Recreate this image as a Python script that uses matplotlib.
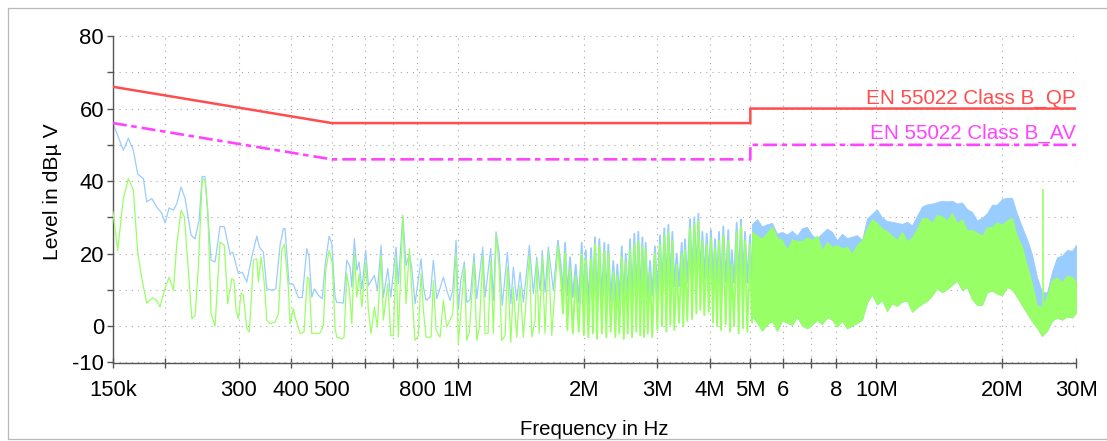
import matplotlib
matplotlib.use("Agg")
import matplotlib.pyplot as plt
from matplotlib.ticker import FixedLocator, FixedFormatter, NullLocator
from matplotlib.lines import Line2D
from matplotlib.patches import Rectangle
import numpy as np

plt.rcParams['font.family'] = ['Liberation Sans', 'DejaVu Sans']
plt.rcParams['lines.scale_dashes'] = False

# ---------------- limit lines (frequency in MHz, level in dBuV) ----------------
qp_freq = [0.15, 0.5, 5.0, 5.0, 30.0]
qp_level = [66.0, 56.0, 56.0, 60.0, 60.0]
av_freq = [0.15, 0.5, 5.0, 5.0, 30.0]
av_level = [56.0, 46.0, 46.0, 50.0, 50.0]
qp_name = "EN 55022 Class B_QP"
av_name = "EN 55022 Class B_AV"

# ---------------- peak trace (blue), 150 kHz .. 1.73 MHz ----------------
blue_freq_a = [0.150, 0.1544, 0.1588, 0.1632, 0.1678, 0.1719, 0.1773, 0.1806, 0.1857, 0.1908,
               0.1962, 0.1998, 0.2042, 0.2092, 0.2131, 0.2182, 0.2230, 0.2305, 0.2356, 0.2408,
               0.2451, 0.2489, 0.2573, 0.2630, 0.2703, 0.2768, 0.2856, 0.2899, 0.2990, 0.3055,
               0.3131, 0.3219, 0.3309, 0.3357, 0.3431, 0.3496, 0.3594, 0.3673, 0.3761, 0.3829,
               0.3865, 0.3951, 0.4047, 0.4160, 0.4250, 0.4356, 0.4411, 0.4478, 0.4542, 0.4643,
               0.4745, 0.4818, 0.4925, 0.5000, 0.5090]
blue_level_a = [55.9, 52.2, 48.5, 51.8, 48.5, 41.9, 40.7, 34.3, 35.2, 32.9,
                31.1, 28.5, 32.6, 32.0, 33.8, 38.4, 35.2, 25.1, 24.1, 29.2,
                41.3, 41.2, 18.2, 17.7, 27.5, 27.4, 20.0, 20.4, 14.5, 14.9,
                12.2, 19.1, 24.8, 21.8, 20.4, 10.3, 9.9, 10.3, 22.3, 26.9,
                26.9, 11.7, 11.5, 7.9, 7.9, 21.4, 19.1, 8.0, 10.3, 8.5,
                7.6, 16.8, 24.8, 22.8, 8.0]
blue_freq_b = [0.5138, 0.5328, 0.5429, 0.5528, 0.5581, 0.5660, 0.5736, 0.5809, 0.5897, 0.6026,
               0.6114, 0.6319, 0.6424, 0.6556, 0.6639, 0.6802, 0.6916, 0.7120, 0.7210, 0.7387,
               0.7523, 0.7661, 0.7764, 0.7905, 0.8170, 0.8274, 0.8398, 0.8585, 0.8742, 0.8907,
               0.9236, 0.9410, 0.9582, 0.9726, 0.9905, 1.0030, 1.0165, 1.0367, 1.0505, 1.0698,
               1.0935, 1.1099, 1.1472, 1.1618, 1.1989, 1.2161, 1.2343, 1.2548, 1.2772, 1.3137,
               1.3387, 1.3573, 1.3829, 1.4083, 1.4344, 1.4827, 1.5156, 1.5442, 1.5725, 1.5918,
               1.6157, 1.6453, 1.6919, 1.7333]
blue_level_b = [6.6, 6.4, 18.2, 16.3, 10.8, 24.1, 15.4, 17.7, 10.3, 20.9,
                11.2, 14.0, 9.9, 22.3, 8.0, 15.9, 8.0, 21.8, 11.7, 30.6,
                16.8, 20.0, 15.9, 6.2, 18.6, 10.8, 7.1, 8.0, 18.2, 7.6,
                13.5, 9.9, 7.1, 9.9, 23.7, 4.8, 12.6, 17.7, 6.6, 7.3,
                20.0, 7.6, 21.8, 8.0, 21.4, 7.1, 26.0, 20.4, 5.7, 20.4,
                6.2, 16.3, 7.1, 14.9, 6.6, 22.3, 9.0, 19.1, 9.9, 20.9,
                9.4, 21.8, 9.9, 23.5]

# ---------------- average trace (green), 150 kHz .. 1.73 MHz ----------------
green_freq_a = [0.150, 0.1539, 0.1588, 0.1632, 0.1678, 0.1719, 0.1767, 0.1806, 0.1867, 0.1908,
                0.1943, 0.1990, 0.2042, 0.2092, 0.2131, 0.2182, 0.2222, 0.2271, 0.2315, 0.2356,
                0.2399, 0.2451, 0.2489, 0.2527, 0.2573, 0.2630, 0.2703, 0.2768, 0.2820, 0.2883,
                0.2920, 0.2952, 0.2990, 0.3035, 0.3073, 0.3131, 0.3177, 0.3248, 0.3309, 0.3338,
                0.3388, 0.3450, 0.3496, 0.3560, 0.3659, 0.3726, 0.3797, 0.3851, 0.3936, 0.3973,
                0.4047, 0.4085, 0.4199, 0.4291, 0.4370, 0.4411, 0.4478, 0.4687, 0.4773, 0.4836,
                0.4925, 0.5017, 0.5090]
green_level_a = [31.5, 20.9, 35.2, 40.7, 37.5, 20.0, 11.7, 6.4, 7.8, 7.1,
                 5.3, 9.9, 13.5, 9.9, 22.8, 32.0, 30.1, 15.4, 2.1, 3.0,
                 16.3, 40.7, 40.2, 32.0, 3.4, 0.0, 23.2, 22.3, 6.2, 13.1,
                 12.6, 4.4, 2.1, 9.1, 8.5, -0.6, -1.6, 18.2, 18.6, 12.2,
                 19.1, 11.7, 1.7, 0.7, 1.2, 3.4, 20.9, 22.6, 10.8, 0.7,
                 4.8, 2.5, -2.0, -1.6, 13.5, 13.1, -2.0, -1.9, 0.2, 15.4,
                 20.9, 17.2, -0.7]
green_freq_b = [0.5138, 0.5282, 0.5348, 0.5429, 0.5507, 0.5581, 0.5660, 0.5736, 0.5809, 0.5897,
                0.6026, 0.6114, 0.6205, 0.6319, 0.6424, 0.6556, 0.6639, 0.6802, 0.6916, 0.7015,
                0.7120, 0.7210, 0.7387, 0.7523, 0.7661, 0.7764, 0.7905, 0.8049, 0.8170, 0.8274,
                0.8398, 0.8632, 0.8742, 0.8873, 0.9070, 0.9236, 0.9410, 0.9582, 0.9726, 0.9905,
                1.0030, 1.0222, 1.0367, 1.0505, 1.0657, 1.0935, 1.1099, 1.1260, 1.1472, 1.1618,
                1.1811, 1.1989, 1.2161, 1.2343, 1.2548, 1.2738, 1.2972, 1.3137, 1.3387, 1.3573,
                1.3829, 1.4083, 1.4344, 1.4827, 1.5026, 1.5298, 1.5442, 1.5638, 1.5918, 1.6157,
                1.6453, 1.6768, 1.7333]
green_level_b = [-3.0, -3.5, -3.0, 14.5, 9.9, 0.7, 20.0, 8.0, 14.5, 5.3,
                 17.7, 4.4, -2.0, 5.3, -0.2, 19.5, 1.7, 11.7, -2.6, -2.6,
                 19.1, -3.0, 30.3, 6.2, 21.4, 9.4, -3.9, -2.6, 14.5, 4.4,
                 -3.0, -3.0, 12.6, -1.1, -3.0, 7.1, -0.2, 1.7, 3.4, 20.0,
                 -4.8, 7.1, 16.3, -3.9, -1.6, 17.7, -3.9, -0.2, 19.5, -2.0,
                 -2.0, 18.2, -2.0, 25.1, 16.3, -3.9, -2.6, 16.3, -4.4, 10.8,
                 -3.0, 11.2, -3.0, 19.5, -3.0, 1.7, 18.2, -2.0, 19.1, -2.0,
                 20.4, -2.6, 21.8]

# ---------------- both traces, 1.76 MHz .. 5.1 MHz (peaks and valleys) ----------------
hf_freq = [1.765, 1.784, 1.804, 1.827, 1.854, 1.882, 1.913, 1.945, 1.978, 2.000,
           2.022, 2.051, 2.082, 2.104, 2.127, 2.151, 2.178, 2.208, 2.239, 2.264,
           2.289, 2.319, 2.353, 2.379, 2.405, 2.432, 2.465, 2.492, 2.519, 2.547,
           2.580, 2.608, 2.641, 2.670, 2.700, 2.729, 2.760, 2.785, 2.811, 2.843,
           2.879, 2.914, 2.959, 2.997, 3.042, 3.076, 3.115, 3.150, 3.185, 3.220,
           3.256, 3.291, 3.334, 3.377, 3.428, 3.458, 3.490, 3.534, 3.588, 3.627,
           3.674, 3.715, 3.756, 3.798, 3.841, 3.882, 3.933, 3.977, 4.027, 4.072,
           4.117, 4.163, 4.209, 4.255, 4.309, 4.366, 4.429, 4.471, 4.514, 4.570,
           4.639, 4.690, 4.750, 4.802, 4.855, 4.917, 4.991, 5.046, 5.111]
hf_green = [12.5, 3.5, 20.0, -1.0, 16.0, -2.0, 14.0, -1.5, 19.8, -2.5,
            18.5, -3.0, 18.5, -2.0, 22.5, -3.5, 22.0, -2.0, 20.7, -3.0,
            20.0, -1.5, 15.0, -3.0, 14.0, -2.0, 19.0, -3.5, 17.5, -2.0,
            21.0, -3.0, 22.5, -1.5, 23.5, -2.5, 22.0, -3.0, 21.0, -2.0,
            15.0, -3.0, 20.0, -1.0, 22.5, 0.0, 25.0, -1.5, 26.0, 0.5,
            23.5, -1.0, 17.0, 1.0, 20.0, 0.0, 21.0, 1.5, 27.0, 2.0,
            28.0, 3.5, 29.0, 4.5, 23.5, 3.0, 22.5, 4.0, 24.0, 1.0,
            21.5, 0.0, 23.5, -1.0, 25.0, 0.5, 23.5, -1.5, 17.0, 0.0,
            26.0, -2.0, 27.5, -0.5, 23.5, -1.5, 22.5, 1.0, 20.0]
hf_blue = [16.0, 9.0, 23.0, 8.5, 19.0, 8.0, 17.0, 6.5, 23.0, 6.5,
           21.0, 6.0, 21.5, 6.5, 24.5, 6.0, 24.0, 7.0, 23.0, 6.5,
           22.5, 7.0, 18.0, 6.5, 17.0, 7.0, 22.0, 6.5, 20.0, 7.0,
           24.0, 7.0, 25.5, 7.5, 26.0, 7.0, 24.5, 7.5, 23.0, 8.0,
           18.0, 8.5, 22.0, 9.0, 25.0, 10.0, 27.0, 10.0, 28.0, 11.0,
           26.0, 11.0, 20.0, 11.0, 23.0, 11.0, 24.0, 12.0, 29.5, 13.0,
           30.0, 13.0, 31.0, 13.5, 26.0, 13.0, 25.5, 13.0, 26.5, 12.0,
           24.0, 12.0, 26.0, 11.0, 27.5, 12.0, 26.5, 11.0, 21.0, 12.0,
           28.5, 12.0, 29.5, 12.0, 26.0, 12.0, 25.0, 13.0, 24.0]

# ---------------- dense region 5 MHz .. 30 MHz (envelopes) ----------------
env_freq = [5.046, 5.187, 5.332, 5.481, 5.633, 5.790, 5.951, 6.117, 6.288, 6.464,
            6.643, 6.829, 7.019, 7.215, 7.416, 7.623, 7.836, 8.055, 8.278, 8.510,
            8.747, 8.991, 9.242, 9.500, 9.764, 10.037, 10.313, 10.601, 10.900, 11.204,
            11.517, 11.838, 12.173, 12.513, 12.859, 13.218, 13.585, 13.965, 14.351, 14.752,
            15.166, 15.590, 16.022, 16.469, 16.927, 17.400, 17.892, 18.391, 18.896, 19.424,
            19.970, 20.528, 21.094, 21.683, 22.287, 22.910, 23.550, 24.208, 24.883, 25.578,
            26.285, 27.019, 27.777, 28.553, 29.349, 30.0]
blue_top = [28.2, 29.5, 27.5, 28.1, 28.5, 25.5, 26.0, 25.3, 26.3, 25.0,
            27.0, 27.4, 25.1, 24.2, 25.6, 26.9, 26.0, 23.7, 25.5, 24.3,
            24.7, 25.1, 23.7, 29.7, 31.0, 32.2, 30.0, 29.0, 28.8, 28.5,
            28.2, 28.8, 27.8, 30.5, 33.0, 33.6, 33.8, 34.2, 34.6, 34.4,
            34.6, 33.8, 34.1, 32.3, 31.5, 29.2, 29.9, 31.2, 33.5, 33.5,
            35.1, 35.4, 35.4, 31.0, 27.4, 24.0, 19.8, 13.5, 9.5, 9.3,
            15.0, 19.0, 19.5, 21.0, 20.8, 22.4]
green_top = [26.0, 25.0, 24.2, 25.8, 27.5, 24.5, 23.8, 21.2, 24.0, 23.5,
             23.5, 24.5, 23.8, 25.0, 21.0, 23.3, 21.9, 22.4, 21.5, 21.9,
             20.1, 22.4, 23.8, 27.0, 29.5, 28.5, 27.0, 26.2, 25.0, 23.8,
             26.0, 23.5, 24.5, 27.0, 29.8, 29.8, 28.5, 30.8, 30.3, 29.2,
             31.3, 28.4, 29.6, 26.5, 26.6, 25.8, 25.0, 27.3, 27.4, 28.7,
             28.0, 29.2, 29.9, 24.9, 22.0, 16.8, 11.8, 5.6, 5.5, 8.5,
             12.8, 13.5, 12.2, 14.0, 13.6, 12.3]
green_bottom = [2.8, 1.0, -1.2, 0.5, 1.5, -1.3, 1.6, 1.0, 0.4, 2.6,
                0.2, -0.6, 0.5, 1.7, 0.6, 2.5, 1.8, -0.1, 1.5, -0.6,
                0.2, 0.9, 1.8, 6.5, 8.8, 6.0, 7.2, 4.2, 6.3, 5.6,
                6.8, 7.1, 4.0, 5.2, 6.2, 7.0, 8.5, 10.5, 9.4, 10.2,
                11.4, 12.6, 10.0, 10.8, 7.5, 5.9, 5.9, 9.4, 9.8, 9.0,
                8.5, 10.8, 10.2, 8.1, 5.8, 3.6, 1.4, -0.4, -2.7, -1.2,
                1.5, 2.4, 1.8, 2.7, 2.4, 3.7]

# single narrow spike
spike_freq = [24.97]
spike_top = [37.7]
spike_base = [-2.7]

# ---------------- axis ticks ----------------
xtick_freq = [0.15, 0.2, 0.3, 0.4, 0.5, 0.6, 0.7, 0.8, 1, 2, 3, 4, 5, 6, 7, 8, 10, 20, 30]
xtick_text = ["150k", "", "300", "400", "500", "", "", "800", "1M", "2M", "3M", "4M", "5M",
              "6", "", "8", "10M", "20M", "30M"]
ytick_vals = [-10, 0, 10, 20, 30, 40, 50, 60, 70, 80]
ytick_text = ["-10", "0", "", "20", "", "40", "", "60", "", "80"]

BLUE = "#99ccff"
GREEN = "#99ff66"
RED = "#ff4d4d"
MAGENTA = "#ff44ff"
MHZ = 1e6

W, H = 1107, 441
fig = plt.figure(figsize=(W / 100, H / 100), dpi=100)
ax = fig.add_axes([113 / W, 1 - 362.5 / H, (1076 - 113) / W, (362.5 - 36) / H])

ax.set_xscale("log")
ax.set_xlim(0.15 * MHZ, 30 * MHZ)
ax.set_ylim(-10, 80)

# traces
blue_f = np.array(blue_freq_a + blue_freq_b) * MHZ
blue_v = np.array(blue_level_a + blue_level_b)
green_f = np.array(green_freq_a + green_freq_b) * MHZ
green_v = np.array(green_level_a + green_level_b)
hf_f = np.array(blue_freq_b[-1:] + hf_freq) * MHZ
hf_gf = np.array(green_freq_b[-1:] + hf_freq) * MHZ
ef = np.array(env_freq) * MHZ

ax.fill_between(ef, green_bottom, blue_top, color=BLUE, lw=0.6, zorder=2)
ax.plot(blue_f, blue_v, color=BLUE, lw=0.9, zorder=2)
ax.plot(hf_f, blue_level_b[-1:] + hf_blue, color=BLUE, lw=1.3, zorder=2)
ax.fill_between(ef, green_bottom, green_top, color=GREEN, lw=0.6, zorder=3)
ax.plot(green_f, green_v, color=GREEN, lw=0.9, zorder=3)
ax.plot(hf_gf, green_level_b[-1:] + hf_green, color=GREEN, lw=1.4, zorder=3)
ax.vlines(np.array(spike_freq) * MHZ, spike_base, spike_top, color=GREEN, lw=1.2, zorder=3)

# limits
ax.plot(np.array(qp_freq) * MHZ, qp_level, color=RED, lw=1.8, zorder=5, solid_joinstyle="miter")
ax.plot(np.array(av_freq) * MHZ, av_level, color=MAGENTA, lw=1.9, zorder=5,
        linestyle=(0, (10.0, 3.3, 4.0, 3.6)))
ax.text(30 * MHZ, qp_level[-1] + 1.4, qp_name, color=RED, fontsize=14.9,
        ha="right", va="baseline", zorder=6)
ax.text(30 * MHZ, av_level[-1] + 1.6, av_name, color=MAGENTA, fontsize=14.9,
        ha="right", va="baseline", zorder=6)

# ticks
ax.xaxis.set_major_locator(FixedLocator(np.array(xtick_freq) * MHZ))
ax.xaxis.set_major_formatter(FixedFormatter(xtick_text))
ax.xaxis.set_minor_locator(NullLocator())
ax.yaxis.set_major_locator(FixedLocator(ytick_vals))
ax.yaxis.set_major_formatter(FixedFormatter(ytick_text))
ax.yaxis.set_minor_locator(NullLocator())
ax.tick_params(axis="x", direction="inout", length=7, width=1.0, color="#555555",
               labelsize=15.8, pad=9)
ax.tick_params(axis="y", direction="out", length=4.5, width=1.0, color="#555555",
               labelsize=15.8, pad=2)

for s in ("top", "right"):
    ax.spines[s].set_visible(False)
for s in ("left", "bottom"):
    ax.spines[s].set_color("#555555")
    ax.spines[s].set_linewidth(1.0)

ax.grid(True, which="major", color="#a8a8a8", linestyle=(0, (0.8, 3.6)), linewidth=0.8)
ax.set_axisbelow(True)
ax.set_facecolor("white")

# axis titles
fig.text(52 / W, 1 - 192 / H, "Level in dBµ V", rotation=90, ha="center", va="center",
         fontsize=15.2)
fig.text(594.5 / W, 1 - 435 / H, "Frequency in Hz", ha="center", va="baseline",
         fontsize=14.7)

# outer frame (crops the bottom of the x title)
fig.add_artist(Rectangle((0, 0), 1, 2.5 / H, transform=fig.transFigure,
                         facecolor="white", edgecolor="none", zorder=20))
frame_c = "#b8b8b8"
fig.add_artist(Line2D([7.5 / W, 7.5 / W], [1 - 7.5 / H, 1 - 438.5 / H],
                      transform=fig.transFigure, color=frame_c, lw=0.9, zorder=21))
fig.add_artist(Line2D([7.5 / W, 1.0], [1 - 7.5 / H, 1 - 7.5 / H],
                      transform=fig.transFigure, color=frame_c, lw=0.9, zorder=21))
fig.add_artist(Line2D([7.5 / W, 1.0], [1 - 438.5 / H, 1 - 438.5 / H],
                      transform=fig.transFigure, color=frame_c, lw=0.9, zorder=21))

fig.savefig("out.png", dpi=100, facecolor="white")
